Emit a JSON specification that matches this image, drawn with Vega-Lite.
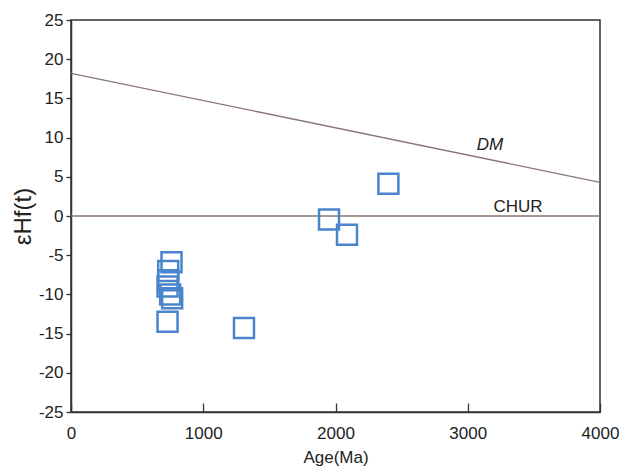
{
  "$schema": "https://vega.github.io/schema/vega-lite/v6.json",
  "autosize": "none",
  "width": 529,
  "height": 392,
  "padding": {"left": 71, "top": 20, "right": 30, "bottom": 59},
  "background": "white",
  "config": {
    "view": {"stroke": "#333333", "strokeWidth": 1.5},
    "font": "Liberation Sans",
    "axis": {"labelOverlap": false, "labelFlush": false, "grid": false}
  },
  "datasets": {
    "samples": [
      {"age": 760, "eps": -5.9},
      {"age": 735, "eps": -7.0},
      {"age": 735, "eps": -8.2},
      {"age": 730, "eps": -9.0},
      {"age": 750, "eps": -10.0},
      {"age": 765, "eps": -10.5},
      {"age": 730, "eps": -13.5},
      {"age": 1308, "eps": -14.3},
      {"age": 2400, "eps": 4.1},
      {"age": 1951, "eps": -0.45},
      {"age": 2087, "eps": -2.4}
    ],
    "lines": [
      {"curve": "DM", "age": 0, "eps": 18.2},
      {"curve": "DM", "age": 4000, "eps": 4.3},
      {"curve": "CHUR", "age": 0, "eps": 0},
      {"curve": "CHUR", "age": 4000, "eps": 0}
    ],
    "labels": [
      {"label": "DM", "age": 3168, "eps": 9.1},
      {"label": "CHUR", "age": 3380, "eps": 1.1}
    ]
  },
  "encoding": {
    "x": {
      "field": "age", "type": "quantitative",
      "scale": {"domain": [0, 4000], "nice": false},
      "axis": {
        "title": "Age(Ma)", "titleFontSize": 17, "titleFontWeight": "normal", "titleColor": "#222",
        "titlePadding": 8,
        "values": [0, 1000, 2000, 3000, 4000],
        "labelExpr": "datum.value + ''",
        "labelFontSize": 17, "labelColor": "#222", "labelPadding": 22,
        "tickSize": -9, "tickColor": "#333", "tickWidth": 1.3,
        "domainColor": "#333", "domainWidth": 1.5
      }
    },
    "y": {
      "field": "eps", "type": "quantitative",
      "scale": {"domain": [-25, 25], "nice": false},
      "axis": {
        "title": "εHf(t)", "titleFontSize": 24, "titleFontWeight": "normal", "titleColor": "#222",
        "titlePadding": 3,
        "values": [-25, -20, -15, -10, -5, 0, 5, 10, 15, 20, 25],
        "labelExpr": "datum.value + ''",
        "labelFontSize": 17, "labelColor": "#222", "labelPadding": 3,
        "tickSize": 5, "tickColor": "#333", "tickWidth": 1.3,
        "domainColor": "#333", "domainWidth": 1.5
      }
    }
  },
  "layer": [
    {
      "data": {"name": "lines"},
      "mark": {"type": "line", "color": "#8a7670", "strokeWidth": 1.3},
      "encoding": {"detail": {"field": "curve"}}
    },
    {
      "data": {"name": "samples"},
      "mark": {"type": "point", "shape": "square", "filled": false, "size": 400, "strokeWidth": 2.5, "color": "#4a84cc", "opacity": 1},
      "encoding": {}
    },
    {
      "data": {"name": "labels"},
      "transform": [{"filter": "datum.label == 'DM'"}],
      "mark": {"type": "text", "fontSize": 17, "color": "#222", "fontStyle": "italic"},
      "encoding": {"text": {"field": "label"}}
    },
    {
      "data": {"name": "labels"},
      "transform": [{"filter": "datum.label == 'CHUR'"}],
      "mark": {"type": "text", "fontSize": 17, "color": "#222"},
      "encoding": {"text": {"field": "label"}}
    }
  ]
}
